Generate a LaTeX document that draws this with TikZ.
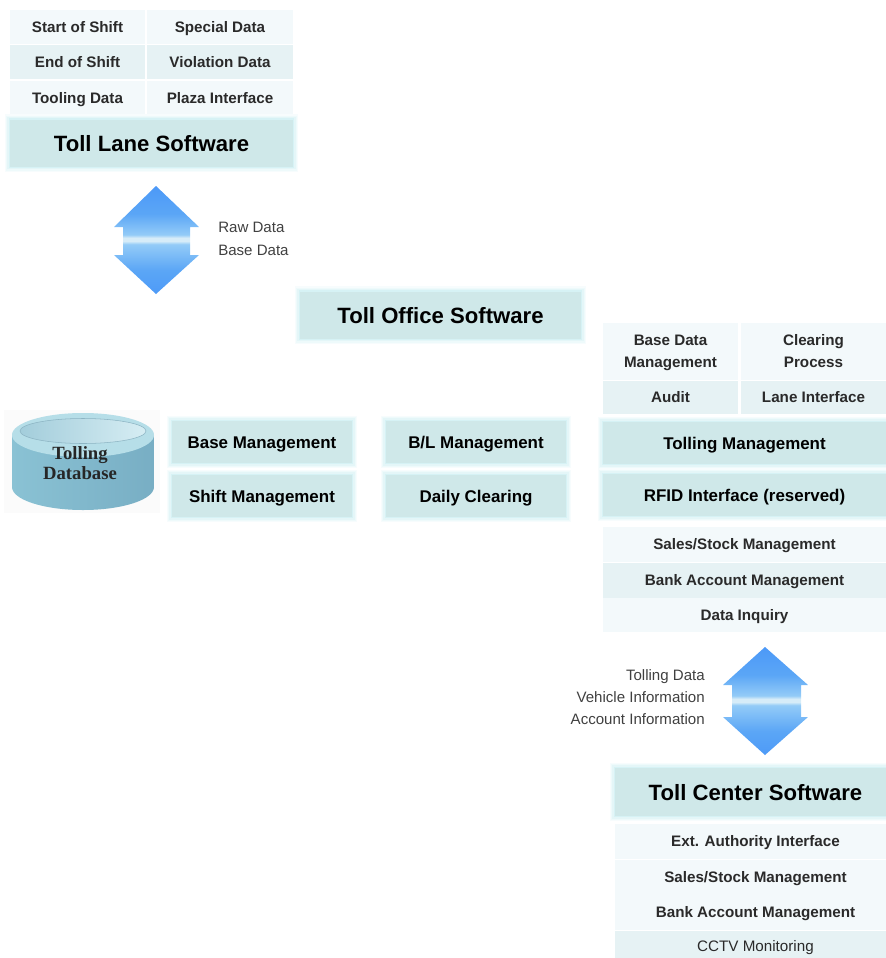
\documentclass[tikz,border=0pt]{standalone}
\usepackage{fontspec}
\setmainfont{Liberation Sans}
\newfontfamily\dbfont{Liberation Serif}

\definecolor{cellLight}{HTML}{F3F9FB}
\definecolor{cellDark}{HTML}{E6F2F4}
\definecolor{titleFill}{HTML}{CFE8E9}
\definecolor{glowTint}{HTML}{C8EEF2}
\definecolor{arrowBlue}{HTML}{2F80FB}
\definecolor{arrowMid}{HTML}{5BA6F6}
\definecolor{arrowPale}{HTML}{93CBF7}
\definecolor{arrowBand}{HTML}{D6ECF8}
\definecolor{cellText}{HTML}{2A2A2A}
\definecolor{dbLeft}{HTML}{8AC2D4}
\definecolor{dbMiddle}{HTML}{9ACFDD}
\definecolor{dbRight}{HTML}{78AEC4}
\definecolor{dbRim}{HTML}{B6DEE8}
\definecolor{dbTopLeft}{HTML}{A3CDDB}
\definecolor{dbTopRight}{HTML}{D6EDF3}
\definecolor{dbEdge}{HTML}{8CB4C3}

\pgfdeclareverticalshading{blockarrow}{100bp}{
	color(0bp)=(arrowBlue); color(36bp)=(arrowMid); color(48bp)=(arrowPale);
	color(49.5bp)=(arrowBand); color(51bp)=(arrowBand);
	color(52.5bp)=(arrowPale); color(62bp)=(arrowMid); color(100bp)=(arrowBlue)}

\tikzset{
	boxsize/.style 2 args = {minimum width = #1 * 0.75pt, minimum height = #2 * 0.75pt},
	cell/.style = {inner sep = 0, align = center, text = cellText, text height = 8.2pt, text depth = 0pt,
		font = \fontsize{11.4}{16.5}\selectfont\bfseries},
	lightcell/.style = {cell, fill = cellLight},
	darkcell/.style = {cell, fill = cellDark},
	twolines/.style = {text height = 24.7pt},
	glowbox/.style = {inner sep = 0, align = center, text = black, fill = titleFill,
		preaction = {draw = glowTint!15, line width = 8pt},
		preaction = {draw = glowTint!30, line width = 6pt},
		preaction = {draw = glowTint!50, line width = 4pt},
		preaction = {draw = glowTint!75, line width = 2pt}},
	titlebox/.style = {glowbox, text height = 12pt, text depth = 0pt, font = \fontsize{16.6}{18}\selectfont\bfseries},
	modulebox/.style = {glowbox, text height = 9.1pt, text depth = 0pt, font = \fontsize{12.7}{16}\selectfont\bfseries},
	datalabel/.style = {inner sep = 0, text = black!75, text height = 8pt, text depth = 0pt,
		font = \fontsize{11.3}{16.5}\selectfont}
}

\begin{document}
\begin{tikzpicture}[x = 0.75pt, y = -0.75pt]

	\useasboundingbox (0, 0) rectangle (886, 958);

	% Toll lane software

	\foreach \name/\x/\y/\look/\wide/\txt in {
		laneA/77.5/27/lightcell/135/Start of Shift, laneB/220/27/lightcell/146/Special Data,
		laneC/77.5/62/darkcell/135/End of Shift, laneD/220/62/darkcell/146/Violation Data,
		laneE/77.5/98/lightcell/135/Tooling Data, laneF/220/98/lightcell/146/Plaza Interface}
		\node (\name) [\look, boxsize = {\wide}{34}] at (\x, \y) {\txt};

	\node (laneTitle) [titlebox, boxsize = {283}{47}] at (151.5, 143) {Toll Lane Software};

	% Arrow + data

	\shade [shading = blockarrow] (156, 186) -- (199, 227) -- (190, 227) -- (190, 255) -- (199, 255)
		-- (156, 294) -- (114, 255) -- (123, 255) -- (123, 227) -- (114, 227) -- cycle;

	\node (laneRaw) [datalabel, anchor = west] at (218, 227) {Raw Data};
	\node (laneBase) [datalabel, anchor = west] at (218, 250) {Base Data};

	% Toll office software

	\node (officeTitle) [titlebox, boxsize = {281}{47}] at (440.5, 315) {Toll Office Software};

	% Database

	\fill [black!1.5] (4, 410) rectangle (160, 513);
	\shade [left color = dbLeft, middle color = dbMiddle, right color = dbRight]
		(12, 435) -- (12, 487) arc [start angle = 180, end angle = 0, x radius = 71, y radius = 23]
		-- (154, 435) -- cycle;
	\fill [dbRim] (83, 435) ellipse [x radius = 71, y radius = 22];
	\shade [left color = dbTopLeft, right color = dbTopRight, draw = dbEdge]
		(83, 431) ellipse [x radius = 63, y radius = 12.5];

	\node (database) [inner sep = 0, align = center, text = black!85,
		font = \fontsize{14}{14.5}\dbfont\bfseries] at (80, 463) {Tolling\\Database};

	% Management columns

	\foreach \name/\x/\y/\txt in {
		base/262/442/Base Management, shift/262/496/Shift Management,
		clearing/476/496/Daily Clearing}
		\node (\name) [modulebox, boxsize = {180}{42}] at (\x, \y) {\txt};

	\node (blMgmt) [modulebox, boxsize = {180}{42}] at (476, 442) {B/L Management};

	% Toll office details

	\node (officeA) [lightcell, twolines, boxsize = {135}{57}] at (670.5, 351.5) {Base Data\\Management};
	\node (officeB) [lightcell, twolines, boxsize = {145}{57}] at (813.5, 351.5) {Clearing\\Process};
	\node (officeC) [darkcell, boxsize = {135}{33}] at (670.5, 397.5) {Audit};
	\node (officeD) [darkcell, boxsize = {145}{33}] at (813.5, 397.5) {Lane Interface};

	\node (tolling) [modulebox, boxsize = {283}{42}] at (744.5, 443) {Tolling Management};
	\node (rfid) [modulebox, boxsize = {283}{42}] at (744.5, 495) {RFID Interface (reserved)};

	\node (officeSales) [lightcell, boxsize = {283}{35}] at (744.5, 544.5) {Sales/Stock Management};
	\node (officeBank) [darkcell, boxsize = {283}{35}] at (744.5, 580) {Bank Account Management};
	\node (officeInquiry) [lightcell, boxsize = {283}{34}] at (744.5, 615) {Data Inquiry};

	% Arrow + data

	\shade [shading = blockarrow] (765, 647) -- (808, 685) -- (801, 685) -- (801, 717) -- (808, 717)
		-- (765, 755) -- (723, 717) -- (732, 717) -- (732, 685) -- (723, 685) -- cycle;

	\node (centerToll) [datalabel, anchor = east] at (705, 675) {Tolling Data};
	\node (centerVehicle) [datalabel, anchor = east] at (705, 697) {Vehicle Information};
	\node (centerAccount) [datalabel, anchor = east] at (705, 719) {Account Information};

	% Toll center software

	\node (centerTitle) [titlebox, boxsize = {281}{48}] at (755.5, 792) {Toll Center Software};

	\node (centerExt) [lightcell, boxsize = {281}{35}] at (755.5, 841.5) {Ext. Authority Interface};
	\node (centerSales) [lightcell, boxsize = {281}{35}] at (755.5, 877) {Sales/Stock Management};
	\node (centerBank) [lightcell, boxsize = {281}{35}] at (755.5, 912.5) {Bank Account Management};
	\node (centerCctv) [darkcell, boxsize = {281}{30}, font = \fontsize{11.4}{16}\selectfont] at (755.5, 946) {CCTV Monitoring};

\end{tikzpicture}
\end{document}
